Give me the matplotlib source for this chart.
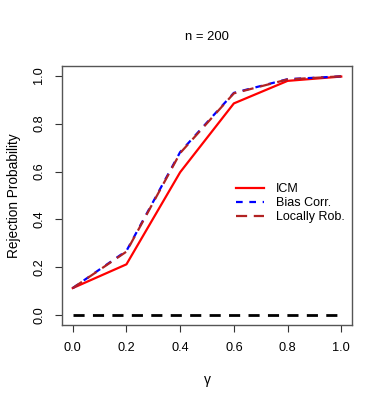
import matplotlib
matplotlib.use("Agg")
import matplotlib.pyplot as plt

gamma = [0.0, 0.2, 0.4, 0.6, 0.8, 1.0]
icm = [0.114, 0.213, 0.597, 0.884, 0.978, 0.996]
bias_corr = [0.114, 0.269, 0.681, 0.928, 0.985, 0.997]
locally_rob = [0.114, 0.266, 0.677, 0.926, 0.984, 0.997]
nominal = [0.0, 0.0, 0.0, 0.0, 0.0, 0.0]
ticks = [0.0, 0.2, 0.4, 0.6, 0.8, 1.0]
tick_labels = ["0.0", "0.2", "0.4", "0.6", "0.8", "1.0"]

plt.rcParams['font.family'] = ['Liberation Sans', 'DejaVu Sans']

fig = plt.figure(figsize=(3.82, 4.09), dpi=100)
ax = fig.add_axes([62/382, 1-325/409, (352-62)/382, (325-66)/409])

ax.plot(gamma, nominal, color='black', lw=2.0, dashes=(4, 3))
l1, = ax.plot(gamma, icm, color='#ff0000', lw=1.6, label='ICM')
l2, = ax.plot(gamma, bias_corr, color='#0000ff', lw=1.6, dashes=(3, 3), label='Bias Corr.')
l3, = ax.plot(gamma, locally_rob, color='#b22222', lw=1.6, dashes=(5, 3), label='Locally Rob.')

ax.set_xlim(-0.04, 1.04)
ax.set_ylim(-0.04, 1.04)
ax.set_xticks(ticks)
ax.set_xticklabels(tick_labels)
ax.set_yticks(ticks)
ax.set_yticklabels(tick_labels, rotation=90, va='center')
ax.tick_params(labelsize=9.2, length=5, width=0.8, color='#333333', pad=7)
for s in ax.spines.values():
    s.set_color('#555555')
    s.set_linewidth(1.0)

ax.set_xlabel('γ', fontsize=10, labelpad=14)
ax.set_ylabel('Rejection Probability', fontsize=9.8, labelpad=9)
ax.set_title('n = 200', fontsize=9.4, pad=19)

ax.legend(handles=[l1, l2, l3], loc='center left', bbox_to_anchor=(0.56, 0.47),
          frameon=False, fontsize=9, handlelength=2.3, labelspacing=0.15,
          handletextpad=0.9)

fig.savefig('out.png', dpi=100)
